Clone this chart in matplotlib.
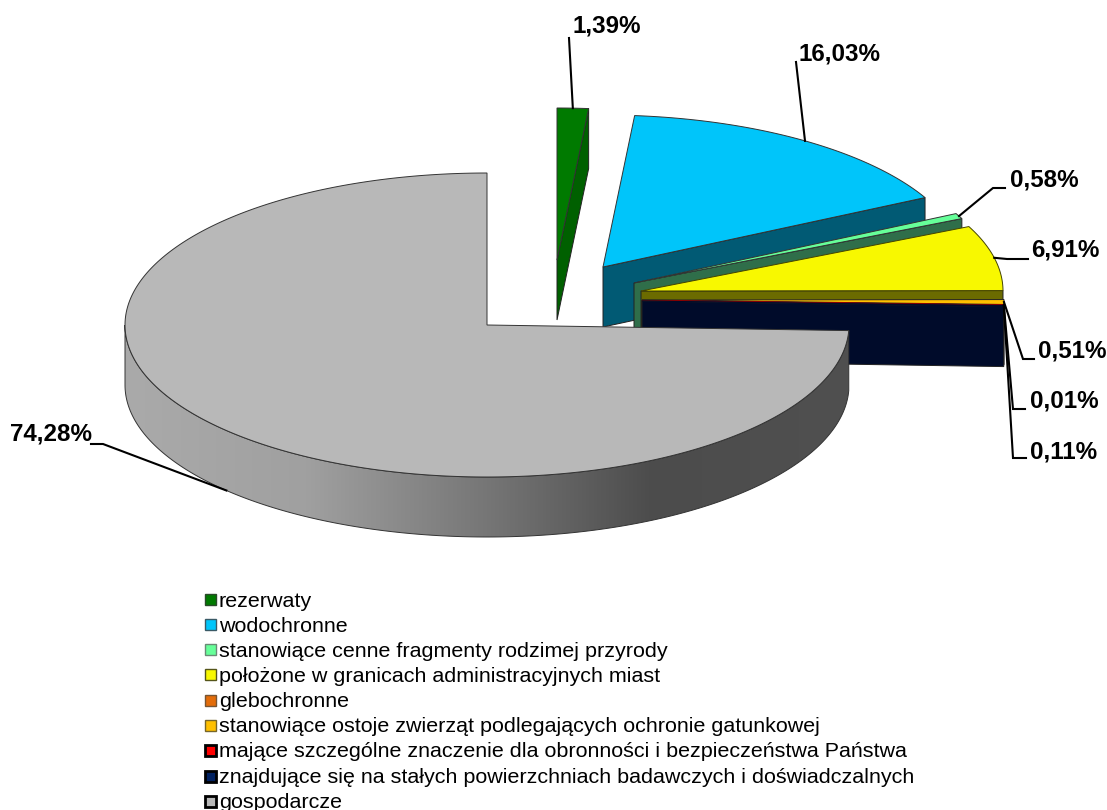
# exploded 3D-look pie chart, drawn by hand because matplotlib pie has no depth
import matplotlib
matplotlib.use('Agg')
import matplotlib.pyplot as plt
from matplotlib.colors import LinearSegmentedColormap
from matplotlib.patches import Polygon, Rectangle
import numpy as np

categories = ['rezerwaty', 'wodochronne', 'stanowiące cenne fragmenty rodzimej przyrody',
              'położone w granicach administracyjnych miast', 'glebochronne',
              'stanowiące ostoje zwierząt podlegających ochronie gatunkowej',
              'mające szczególne znaczenie dla obronności i bezpieczeństwa Państwa',
              'znajdujące się na stałych powierzchniach badawczych i doświadczalnych',
              'gospodarcze']
values = [1.39, 16.03, 0.58, 6.91, 0.0, 0.51, 0.01, 0.11, 74.28]
labels = ['1,39%', '16,03%', '0,58%', '6,91%', None, '0,51%', '0,01%', '0,11%', '74,28%']

top_colors = ['#007A00', '#00C5FA', '#66FF99', '#F8F800', '#E36C09', '#FFC000', '#FF0000', '#002060', '#B8B8B8']
side_colors = ['#006000', '#015A74', '#2F6E4A', '#6B6B00', '#7A3A05', '#7F6000', '#7F0000', '#000B2A', '#808080']
top_edges = ['#333333', '#333333', '#333333', '#444400', '#333333', '#222222', '#8B0000', '#000B2A', '#333333']
legend_edges = ['#2A4A2A', '#3A5A66', '#6A8A76', '#55551A', '#775533', '#77662A', '#000000', '#000000', '#000000']
legend_widths = [1.0, 1.0, 1.0, 1.0, 1.0, 1.0, 2.0, 2.0, 2.0]

# apex of every slice in pixels (explosion), last one is the big grey slice
apex_x = [557, 603, 634, 641, 642, 642, 642, 642, 487]
apex_y = [260, 267, 283, 291, 300, 300, 300.5, 301, 325]
rx, ry, depth = 362, 152, 60

# where the label text sits and the elbow of its leader line
label_x = [607, 840, 1044, 1065, None, 1072, 1064, 1064, 51]
label_y = [26, 54, 180, 250, None, 351, 401, 452, 434]
elbow_x = [[569], [796], [993, 1005], [1007, 1028], None, [1023, 1034], [1013, 1025], [1013, 1026], [103, 91]]
elbow_y = [[38], [62], [188, 188], [259, 259], None, [359, 359], [409, 409], [458, 458], [444, 444]]

total = sum(values)
edges = np.cumsum([0] + values) / total * 360


def rim(i, ang):
    a = np.radians(ang)
    return apex_x[i] + rx * np.sin(a), apex_y[i] - ry * np.cos(a)


fig = plt.figure(figsize=(11.07, 8.10), dpi=100)
ax = fig.add_axes([0, 0, 1, 1])
ax.set_xlim(0, 1107)
ax.set_ylim(810, 0)
ax.axis('off')

# small slices from the back to the front
for i in range(8):
    if values[i] == 0:
        continue
    a0, a1 = edges[i], edges[i + 1]
    x1, y1 = rim(i, a1)
    ang = np.linspace(a0, a1, 60)
    xs, ys = rim(i, ang)
    # the wall along the closing edge of the slice
    wall = [(apex_x[i], apex_y[i]), (x1, y1), (x1, y1 + depth), (apex_x[i], apex_y[i] + depth)]
    ax.add_patch(Polygon(wall, closed=True, fc=side_colors[i], ec='#222222', lw=0.7, zorder=2 + i))
    top = [(apex_x[i], apex_y[i])] + list(zip(xs, ys))
    ax.add_patch(Polygon(top, closed=True, fc=top_colors[i], ec=top_edges[i], lw=0.7, zorder=2 + i))

# grey slice: curved wall with a gradient, then the top
a0, a1 = edges[8], edges[9]
ang = np.linspace(a0, 270, 200)
xs, ys = rim(8, ang)
wall = list(zip(xs, ys)) + list(zip(xs[::-1], ys[::-1] + depth))
grad = LinearSegmentedColormap.from_list('grad', [(0, '#AAAAAA'), (0.25, '#A0A0A0'), (0.5, '#767676'),
                                                  (0.73, '#4C4C4C'), (1, '#505050')])
im = ax.imshow(np.linspace(0, 1, 256).reshape(1, -1), cmap=grad, aspect='auto', zorder=20,
               extent=[xs.min(), xs.max(), 600, 300])
wall_patch = Polygon(wall, closed=True, fc='none', ec='#333333', lw=0.7, zorder=21)
ax.add_patch(wall_patch)
im.set_clip_path(wall_patch)
ax.set_xlim(0, 1107)
ax.set_ylim(810, 0)

ang = np.linspace(a0, a1, 300)
xs, ys = rim(8, ang)
top = [(apex_x[8], apex_y[8])] + list(zip(xs, ys))
ax.add_patch(Polygon(top, closed=True, fc=top_colors[8], ec='#333333', lw=0.7, zorder=22))

# leader lines and data labels
for i in range(9):
    if labels[i] is None:
        continue
    mid = (edges[i] + edges[i + 1]) / 2
    x0, y0 = rim(i, mid)
    if i == 8:
        y0 = y0 + depth
    ax.plot([x0] + elbow_x[i], [y0] + elbow_y[i], color='black', lw=1.5, zorder=30,
            solid_joinstyle='miter')
    ax.text(label_x[i], label_y[i], labels[i], fontsize=17.4, fontweight='bold',
            family='Liberation Sans', ha='center', va='center', zorder=31)

# legend
for i, name in enumerate(categories):
    y = 599 + i * 25.3
    ax.add_patch(Rectangle((204.5, y - 5.5), 11, 11, fc=top_colors[i], ec=legend_edges[i],
                           lw=legend_widths[i], zorder=30))
    ax.text(219, 606.7 + i * 25.12, name, fontsize=15.45, family='Liberation Sans',
            ha='left', va='baseline', zorder=31)

fig.savefig('out.png', dpi=100)
